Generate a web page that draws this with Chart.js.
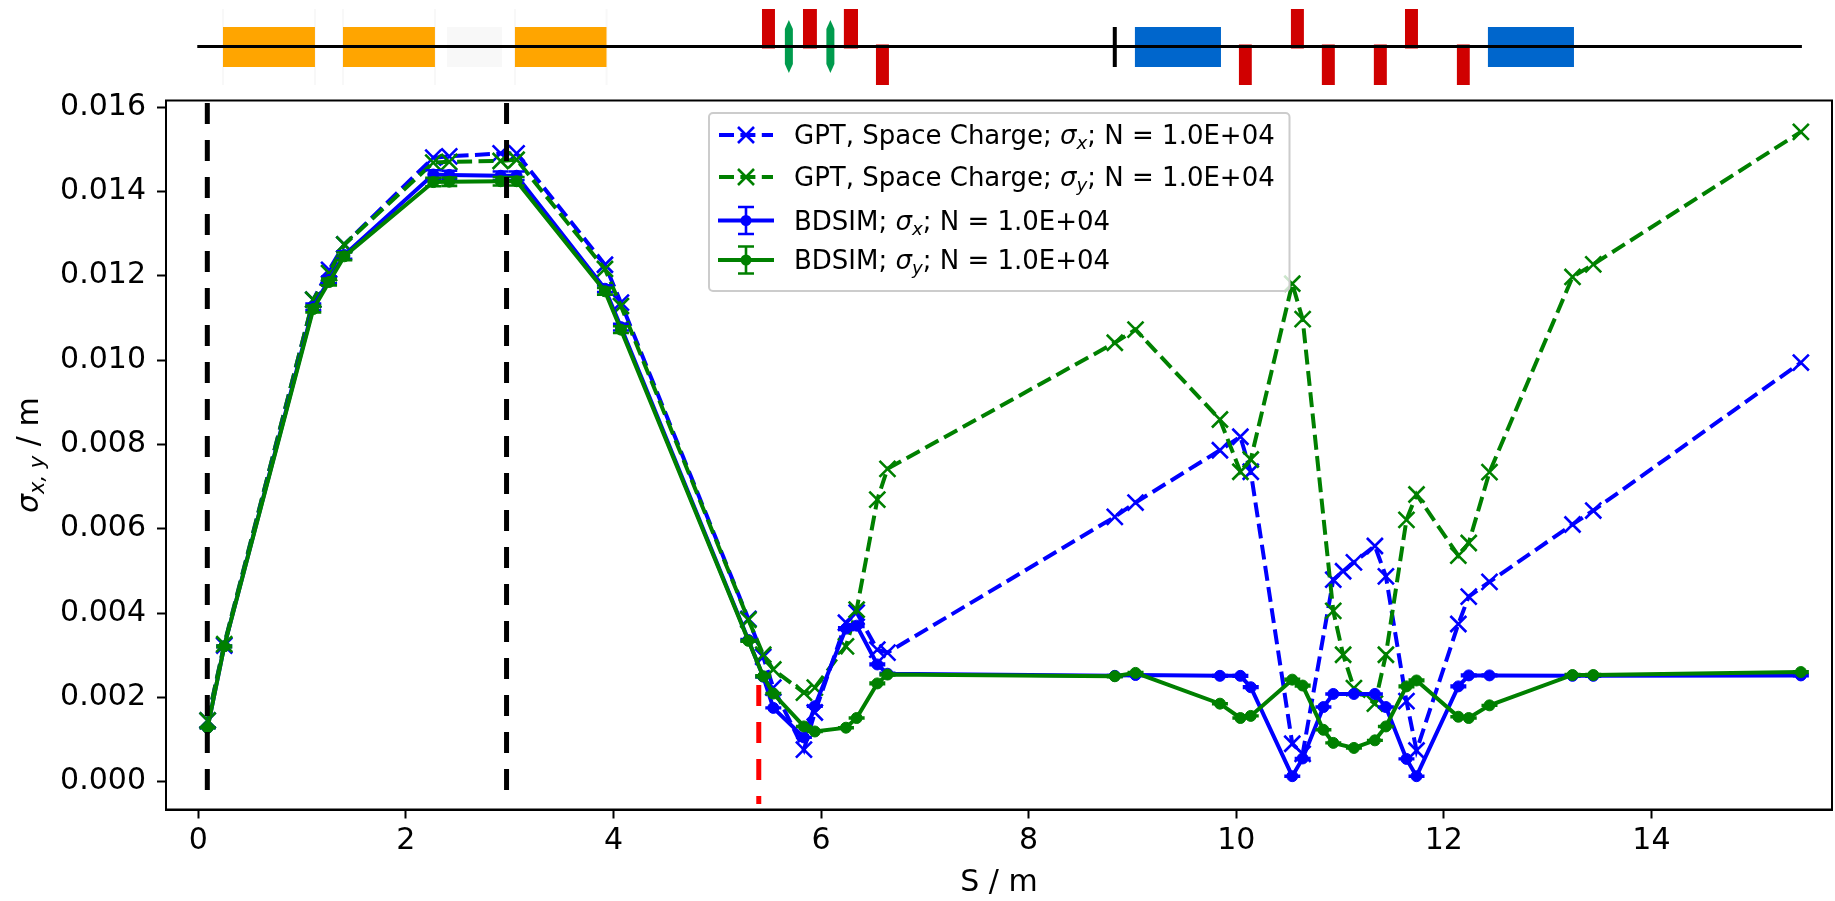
<!DOCTYPE html>
<html>
<head>
<meta charset="utf-8">
<title>Beam size along S</title>
<script src="https://cdn.jsdelivr.net/npm/chart.js@4/dist/chart.umd.min.js"></script>
<style>
    html, body { margin: 0; padding: 0; background: #fff; }
    canvas { display: block; }
</style>
</head>
<body>
<canvas id="grafica" width="1835" height="901"></canvas>
<script>
// S positions of the GPT samples and their beam sizes
const sGpt = [0.09, 0.25, 1.108, 1.26, 1.407, 2.264, 2.418, 2.913, 3.067, 3.918, 4.072, 5.30, 5.443, 5.54, 5.835, 5.94, 6.24, 6.343, 6.542, 6.64, 8.83, 9.03, 9.843, 10.04, 10.14, 10.54, 10.64, 10.935, 11.03, 11.134, 11.336, 11.442, 11.64, 11.737, 12.14, 12.24, 12.44, 13.24, 13.44, 15.44];
const gptX = [0.00145, 0.00323, 0.01143, 0.01214, 0.01274, 0.0148, 0.01483, 0.0149, 0.0149, 0.01226, 0.01136, 0.00386, 0.00296, 0.00223, 0.00076, 0.00164, 0.00377, 0.00401, 0.00313, 0.00306, 0.00628, 0.00662, 0.00786, 0.00818, 0.00735, 0.0009, 0.00066, 0.00479, 0.00499, 0.0052, 0.00559, 0.00487, 0.00191, 0.00074, 0.00374, 0.00439, 0.00474, 0.0061, 0.00643, 0.00994];
const gptY = [0.00145, 0.00326, 0.01143, 0.01206, 0.01274, 0.01468, 0.0147, 0.01472, 0.01475, 0.01216, 0.01128, 0.00384, 0.00301, 0.00266, 0.00211, 0.00223, 0.00321, 0.00408, 0.00669, 0.00742, 0.01041, 0.01072, 0.00859, 0.00735, 0.00764, 0.01181, 0.01097, 0.00405, 0.00301, 0.00222, 0.00185, 0.00301, 0.00621, 0.00681, 0.00536, 0.00566, 0.00734, 0.01197, 0.01227, 0.01541];

// BDSIM samples, with the error bars
const sBds = [0.09, 0.25, 1.108, 1.26, 1.407, 2.264, 2.418, 2.913, 3.067, 3.918, 4.072, 5.30, 5.443, 5.54, 5.835, 5.94, 6.24, 6.343, 6.542, 6.64, 8.83, 9.03, 9.843, 10.04, 10.14, 10.54, 10.64, 10.84, 10.935, 11.134, 11.336, 11.442, 11.64, 11.737, 12.14, 12.24, 12.44, 13.24, 13.44, 15.44];
const bdsX = [0.00128, 0.00321, 0.01126, 0.0119, 0.01249, 0.0144, 0.01439, 0.01437, 0.01437, 0.01169, 0.01078, 0.00336, 0.00249, 0.00175, 0.00105, 0.00179, 0.00363, 0.0037, 0.00278, 0.00256, 0.00251, 0.00253, 0.00251, 0.00251, 0.00224, 0.00013, 0.00055, 0.00177, 0.00208, 0.00208, 0.00208, 0.00177, 0.00054, 0.00013, 0.00226, 0.00252, 0.00252, 0.00251, 0.00251, 0.00252];
const bdsY = [0.00128, 0.00321, 0.01121, 0.01185, 0.01246, 0.01422, 0.01423, 0.01424, 0.01424, 0.01163, 0.01072, 0.00334, 0.0025, 0.00209, 0.00131, 0.00119, 0.00128, 0.00151, 0.00233, 0.00254, 0.0025, 0.00258, 0.00185, 0.00151, 0.00156, 0.00242, 0.00228, 0.00123, 0.00092, 0.0008, 0.00098, 0.00131, 0.00226, 0.0024, 0.00154, 0.00151, 0.00181, 0.00253, 0.00253, 0.0026];
const errX = [0.00001, 0.00002, 0.00008, 0.00008, 0.00009, 0.0001, 0.0001, 0.0001, 0.0001, 0.00008, 0.00008, 0.00002, 0.00002, 0.00001, 0.00001, 0.00001, 0.00003, 0.00003, 0.00002, 0.00002, 0.00002, 0.00002, 0.00002, 0.00002, 0.00002, 0.00001, 0.00001, 0.00001, 0.00001, 0.00001, 0.00001, 0.00001, 0.00001, 0.00001, 0.00002, 0.00002, 0.00002, 0.00002, 0.00002, 0.00002];
const errY = [0.00001, 0.00002, 0.00008, 0.00008, 0.00009, 0.0001, 0.0001, 0.0001, 0.0001, 0.00008, 0.00008, 0.00002, 0.00002, 0.00001, 0.00001, 0.00001, 0.00001, 0.00001, 0.00002, 0.00002, 0.00002, 0.00002, 0.00001, 0.00001, 0.00001, 0.00002, 0.00002, 0.00001, 0.00001, 0.00001, 0.00001, 0.00001, 0.00002, 0.00002, 0.00001, 0.00001, 0.00001, 0.00002, 0.00002, 0.00002];

// vertical markers
const collimators = [0.087, 2.97];
const redMarker = 5.40;
const guideTop = 0.016095;
const guideBottom = -0.00034;
const redTop = 0.00229;
const redBottom = -0.00053;

const xTicks = [0, 2, 4, 6, 8, 10, 12, 14];
const yTicks = [0, 0.002, 0.004, 0.006, 0.008, 0.01, 0.012, 0.014, 0.016];

// beamline elements, start and end in S
const dipoleStart = [0.238, 1.394, 3.051];
const dipoleEnd = [1.124, 2.28, 3.933];
const driftStart = [2.396];
const driftEnd = [2.926];
const quadUpStart = [5.431, 5.826, 6.22, 10.527, 11.626];
const quadUpEnd = [5.556, 5.96, 6.356, 10.652, 11.751];
const quadDownStart = [6.529, 10.026, 10.825, 11.326, 12.126];
const quadDownEnd = [6.654, 10.15, 10.95, 11.451, 12.25];
const solenoidStart = [9.024, 12.425];
const solenoidEnd = [9.853, 13.254];
const steerers = [5.69, 6.09];
const screen = [8.83];
const latticeEnd = 15.45;

const FONT = '"DejaVu Sans"';
const AZUL = '#0000ff';
const VERDE = '#008000';

const etiquetas = [
    [['GPT, Space Charge; '], ['σ', 'i'], ['x', 's'], ['; N = 1.0E+04']],
    [['GPT, Space Charge; '], ['σ', 'i'], ['y', 's'], ['; N = 1.0E+04']],
    [['BDSIM; '], ['σ', 'i'], ['x', 's'], ['; N = 1.0E+04']],
    [['BDSIM; '], ['σ', 'i'], ['y', 's'], ['; N = 1.0E+04']]
];
const tituloY = [['σ', 'i'], ['x, y', 's'], [' / m']];

const puntos = (xs, ys) => xs.map((x, i) => ({ x: x, y: ys[i] }));

const guia = (x, y0, y1, color) => ({
    data: [{ x: x, y: y0 }, { x: x, y: y1 }],
    borderColor: color,
    borderWidth: 5,
    borderDash: [21, 16],
    borderCapStyle: 'butt',
    pointRadius: 0,
    showLine: true,
    order: 0
});

const gpt = (xs, ys, color, orden) => ({
    data: puntos(xs, ys),
    borderColor: color,
    borderWidth: 4,
    borderDash: [15, 6.4],
    borderCapStyle: 'butt',
    pointStyle: 'crossRot',
    pointRadius: 11.3,
    pointBorderColor: color,
    pointBorderWidth: 2.6,
    showLine: true,
    tension: 0,
    order: orden
});

const bds = (xs, ys, errs, color, orden) => ({
    data: puntos(xs, ys),
    errs: errs,
    borderColor: color,
    borderWidth: 4,
    pointStyle: 'circle',
    pointRadius: 5.5,
    pointBackgroundColor: color,
    pointBorderColor: color,
    pointBorderWidth: 1,
    showLine: true,
    tension: 0,
    order: orden
});

// writes text with italic and subscript runs, returns the end x
const escribir = (ctx, x, y, runs, size) => {
    runs.forEach(r => {
        const sub = r[1] === 's';
        const it = r[1] === 'i' || sub;
        const tam = sub ? size * 0.7 : size;
        ctx.font = (it ? 'italic ' : '') + tam + 'px ' + FONT;
        ctx.fillText(r[0], x, sub ? y + size * 0.2 : y);
        x += ctx.measureText(r[0]).width;
    });
    return x;
};

// pins the plot area to where the reference has it
const areaFija = {
    id: 'areaFija',
    afterLayout(chart) {
        const a = chart.chartArea;
        a.left = 166;
        a.right = 1832;
        a.top = 100.5;
        a.bottom = 809.5;
        a.width = a.right - a.left;
        a.height = a.bottom - a.top;
        const { x, y } = chart.scales;
        x.left = a.left;
        x.right = a.right;
        x.width = a.width;
        x.top = a.bottom;
        x.bottom = 901;
        x.height = x.bottom - x.top;
        y.left = 0;
        y.right = a.left;
        y.width = a.left;
        y.top = a.top;
        y.bottom = a.bottom;
        y.height = a.height;
        x.configure();
        y.configure();
    }
};

const barrasError = {
    id: 'barrasError',
    afterDatasetDraw(chart, args) {
        const ds = chart.data.datasets[args.index];
        if (!ds.errs) return;
        const { ctx, scales } = chart;
        ctx.save();
        ctx.beginPath();
        ctx.rect(chart.chartArea.left, chart.chartArea.top, chart.chartArea.width, chart.chartArea.height);
        ctx.clip();
        ctx.strokeStyle = ds.borderColor;
        ctx.lineWidth = 2.6;
        ds.data.forEach((p, i) => {
            const x = scales.x.getPixelForValue(p.x);
            const y0 = scales.y.getPixelForValue(p.y - ds.errs[i]);
            const y1 = scales.y.getPixelForValue(p.y + ds.errs[i]);
            ctx.beginPath();
            ctx.moveTo(x, y0);
            ctx.lineTo(x, y1);
            ctx.moveTo(x - 8, y0);
            ctx.lineTo(x + 8, y0);
            ctx.moveTo(x - 8, y1);
            ctx.lineTo(x + 8, y1);
            ctx.stroke();
        });
        ctx.restore();
    }
};

// beamline schematic over the plot, follows the S axis
const esquema = {
    id: 'esquema',
    afterDraw(chart) {
        const { ctx } = chart;
        const sx = chart.scales.x;
        const px = s => sx.getPixelForValue(s);
        const base = 46.5;
        const cajas = (ini, fin, color, top, bottom) => {
            ctx.fillStyle = color;
            ini.forEach((s, i) => ctx.fillRect(px(s), top, px(fin[i]) - px(s), bottom - top));
        };
        ctx.save();
        dipoleStart.forEach((s, i) => {
            ctx.fillStyle = '#f8f8f8';
            ctx.fillRect(px(s) - 1, 9, 2, 76);
            ctx.fillRect(px(dipoleEnd[i]) - 1, 9, 2, 76);
        });
        cajas(dipoleStart, dipoleEnd, '#ffa500', 27, 67);
        cajas(driftStart, driftEnd, '#f8f8f8', 27, 67);
        cajas(quadUpStart, quadUpEnd, '#d00000', 9, base + 2);
        cajas(quadDownStart, quadDownEnd, '#d00000', base - 2, 85);
        cajas(solenoidStart, solenoidEnd, '#0066cc', 27, 67);
        ctx.fillStyle = '#009b4d';
        steerers.forEach(s => {
            const x = px(s);
            ctx.beginPath();
            ctx.moveTo(x, 20);
            ctx.lineTo(x + 4, 29);
            ctx.lineTo(x + 4, 64);
            ctx.lineTo(x, 73);
            ctx.lineTo(x - 4, 64);
            ctx.lineTo(x - 4, 29);
            ctx.closePath();
            ctx.fill();
        });
        ctx.fillStyle = '#000';
        ctx.fillRect(px(0) - 1, base - 1.5, px(latticeEnd) - px(0) + 1, 3);
        screen.forEach(s => ctx.fillRect(px(s) - 2, 27, 4, 40));
        ctx.restore();
    }
};

const marcoYLeyenda = {
    id: 'marcoYLeyenda',
    afterDatasetsDraw(chart) {
        const { ctx, chartArea: a } = chart;
        ctx.save();

        // frame
        ctx.strokeStyle = '#000';
        ctx.lineWidth = 2;
        ctx.strokeRect(a.left, a.top, a.right - a.left, a.bottom - a.top);

        // legend box
        ctx.beginPath();
        ctx.roundRect(709, 113, 580.5, 178, 4);
        ctx.fillStyle = 'rgba(255,255,255,0.8)';
        ctx.fill();
        ctx.strokeStyle = '#cccccc';
        ctx.lineWidth = 2;
        ctx.stroke();

        const filas = [135, 177, 220.5, 260];
        const colores = [AZUL, VERDE, AZUL, VERDE];
        ctx.textBaseline = 'alphabetic';
        ctx.textAlign = 'left';
        filas.forEach((y, i) => {
            const c = colores[i];
            ctx.strokeStyle = c;
            ctx.fillStyle = c;
            if (i < 2) {
                ctx.lineWidth = 4;
                ctx.setLineDash([15, 6.4]);
                ctx.beginPath();
                ctx.moveTo(719, y);
                ctx.lineTo(773, y);
                ctx.stroke();
                ctx.setLineDash([]);
                ctx.lineWidth = 2.6;
                ctx.beginPath();
                ctx.moveTo(738, y - 8);
                ctx.lineTo(754, y + 8);
                ctx.moveTo(754, y - 8);
                ctx.lineTo(738, y + 8);
                ctx.stroke();
            } else {
                ctx.lineWidth = 4;
                ctx.beginPath();
                ctx.moveTo(718, y);
                ctx.lineTo(774, y);
                ctx.stroke();
                ctx.lineWidth = 2.6;
                ctx.beginPath();
                ctx.moveTo(746, y - 13.5);
                ctx.lineTo(746, y + 13.5);
                ctx.moveTo(738, y - 13.5);
                ctx.lineTo(754, y - 13.5);
                ctx.moveTo(738, y + 13.5);
                ctx.lineTo(754, y + 13.5);
                ctx.stroke();
                ctx.beginPath();
                ctx.arc(746, y, 5.5, 0, Math.PI * 2);
                ctx.fill();
            }
            ctx.fillStyle = '#000';
            escribir(ctx, 794, y + 9, etiquetas[i], 26);
        });

        // y axis title
        ctx.translate(38, 513);
        ctx.rotate(-Math.PI / 2);
        ctx.fillStyle = '#000';
        escribir(ctx, 0, 0, tituloY, 30);
        ctx.restore();
    }
};

new Chart(document.getElementById('grafica').getContext('2d'), {
    type: 'scatter',
    data: {
        datasets: [
            guia(collimators[0], guideTop, guideBottom, '#000'),
            guia(collimators[1], guideTop, guideBottom, '#000'),
            guia(redMarker, redTop, redBottom, '#ff0000'),
            bds(sBds, bdsY, errY, VERDE, 1),
            bds(sBds, bdsX, errX, AZUL, 2),
            gpt(sGpt, gptY, VERDE, 3),
            gpt(sGpt, gptX, AZUL, 4)
        ]
    },
    options: {
        responsive: false,
        animation: false,
        plugins: { legend: { display: false }, tooltip: { enabled: false } },
        scales: {
            x: {
                type: 'linear',
                min: -0.311,
                max: 15.74,
                afterBuildTicks: axis => { axis.ticks = xTicks.map(v => ({ value: v })); },
                grid: { drawOnChartArea: false, drawTicks: true, tickLength: 9, tickWidth: 2, tickColor: '#000' },
                border: { display: true, color: '#000', width: 2 },
                ticks: {
                    color: '#000',
                    font: { family: FONT, size: 30 },
                    padding: 5,
                    maxRotation: 0,
                    autoSkip: false,
                    callback: v => String(v)
                },
                title: {
                    display: true,
                    text: 'S / m',
                    color: '#000',
                    font: { family: FONT, size: 30 },
                    padding: { top: 0, bottom: 0 }
                }
            },
            y: {
                type: 'linear',
                min: -0.00066,
                max: 0.016155,
                afterBuildTicks: axis => { axis.ticks = yTicks.map(v => ({ value: v })); },
                grid: { drawOnChartArea: false, drawTicks: true, tickLength: 9, tickWidth: 2, tickColor: '#000' },
                border: { display: true, color: '#000', width: 2 },
                ticks: {
                    color: '#000',
                    font: { family: FONT, size: 30 },
                    padding: 11,
                    autoSkip: false,
                    callback: v => v.toFixed(3)
                }
            }
        }
    },
    plugins: [areaFija, barrasError, esquema, marcoYLeyenda]
});
</script>
</body>
</html>
